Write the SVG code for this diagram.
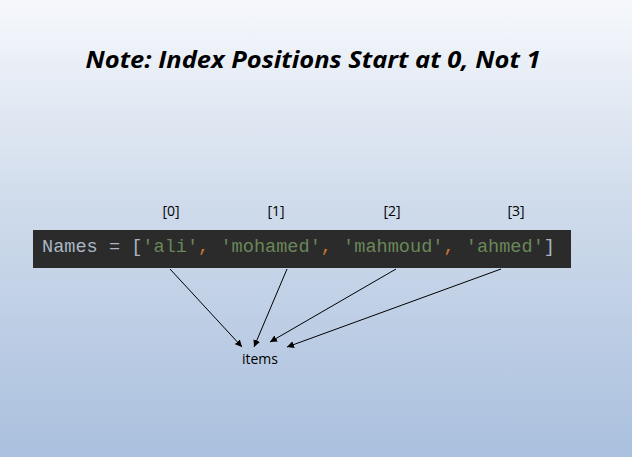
<svg xmlns="http://www.w3.org/2000/svg" width="632" height="457" viewBox="0 0 632 457">
<defs>
<linearGradient id="bg" x1="0" y1="0" x2="0" y2="1">
<stop offset="0" stop-color="#f6f8fc"/>
<stop offset="0.45" stop-color="#cfdbeb"/>
<stop offset="1" stop-color="#aac0de"/>
</linearGradient>
<marker id="ah" viewBox="0 0 10 10" refX="10" refY="5" markerWidth="7" markerHeight="7" markerUnits="userSpaceOnUse" orient="auto">
<path d="M0,0 L10,5 L0,10 z" fill="#000"/>
</marker>
<style>
.idx{font-family:"Open Sans","Noto Sans",sans-serif;font-size:14px;fill:#000;text-anchor:middle}
.code{font-family:"Liberation Mono","Courier New",monospace;font-size:18.6px}
.conn line{stroke:#000;stroke-width:1;marker-end:url(#ah)}
</style>
</defs>
<rect width="632" height="457" fill="url(#bg)"/>
<text x="313" y="68" font-family="'Open Sans','Noto Sans',sans-serif" font-size="24" font-weight="bold" font-style="italic" text-anchor="middle" textLength="455" lengthAdjust="spacingAndGlyphs">Note: Index Positions Start at 0, Not 1</text>
<g id="index0"><text class="idx" x="171" y="216">[0]</text></g>
<g id="index1"><text class="idx" x="276" y="216">[1]</text></g>
<g id="index2"><text class="idx" x="392" y="216">[2]</text></g>
<g id="index3"><text class="idx" x="516" y="216">[3]</text></g>
<g id="code">
<rect x="33" y="230" width="538" height="38" fill="#2b2b2b"/>
<text class="code" x="42" y="252" textLength="513" lengthAdjust="spacingAndGlyphs"><tspan fill="#a9b7c6">Names = [</tspan><tspan fill="#6a8759">'ali'</tspan><tspan fill="#cc7832">,</tspan><tspan fill="#6a8759"> 'mohamed'</tspan><tspan fill="#cc7832">,</tspan><tspan fill="#6a8759"> 'mahmoud'</tspan><tspan fill="#cc7832">,</tspan><tspan fill="#6a8759"> 'ahmed'</tspan><tspan fill="#a9b7c6">]</tspan></text>
</g>
<g id="items"><text x="260" y="364" font-family="'Open Sans','Noto Sans',sans-serif" font-size="14" text-anchor="middle">items</text></g>
<g id="connectors" class="conn">
<line x1="170" y1="269" x2="242" y2="347"/>
<line x1="287" y1="269" x2="254" y2="347"/>
<line x1="396" y1="269" x2="270" y2="342"/>
<line x1="501" y1="269" x2="287" y2="347"/>
</g>
</svg>
